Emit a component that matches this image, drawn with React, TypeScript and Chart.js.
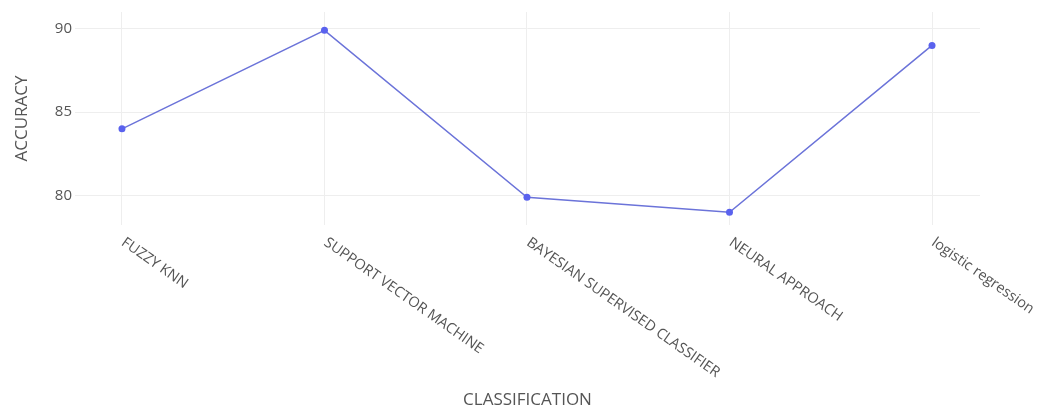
import React, { useEffect, useRef } from "react";
import { Chart, registerables } from "chart.js";

Chart.register(...registerables);

const categories = [
  "FUZZY KNN",
  "SUPPORT VECTOR MACHINE",
  "BAYESIAN SUPERVISED CLASSIFIER",
  "NEURAL APPROACH",
  "logistic regression",
];
const accuracy = [84, 89.9, 79.9, 79, 89];
const yTicks = [80, 85, 90];

const FONT = "'Open Sans', 'Noto Sans', sans-serif";
const TEXT = "#555555";

export default function App() {
  const ref = useRef<HTMLCanvasElement | null>(null);
  useEffect(() => {
    if (!ref.current) return;
    const rotatedLabels = {
      id: "rotatedLabels",
      afterDraw(chart: any) {
        const { ctx, scales } = chart;
        const xs = scales.x;
        const top = chart.chartArea.bottom + 8;
        ctx.save();
        ctx.font = `14.5px ${FONT}`;
        ctx.fillStyle = TEXT;
        ctx.textAlign = "left";
        ctx.textBaseline = "middle";
        categories.forEach((c, i) => {
          const px = xs.getPixelForValue(i);
          ctx.save();
          ctx.translate(px + 1, top + 8);
          ctx.rotate((35 * Math.PI) / 180);
          ctx.fillText(c, 0, 0);
          ctx.restore();
        });
        ctx.restore();
      },
    };
    const chart = new Chart(ref.current, {
      type: "line",
      data: {
        datasets: [
          {
            data: accuracy.map((v, i) => ({ x: i, y: v })),
            borderColor: "#6b73d9",
            borderWidth: 1.5,
            backgroundColor: "#5a62ee",
            pointBackgroundColor: "#5a62ee",
            pointBorderWidth: 0,
            pointRadius: 3.5,
            tension: 0,
          },
        ],
      },
      options: {
        animation: false,
        responsive: true,
        maintainAspectRatio: false,
        layout: { padding: { top: 8, right: 60, bottom: 0, left: 0 } },
        plugins: { legend: { display: false }, tooltip: { enabled: false } },
        scales: {
          x: {
            type: "linear",
            min: -0.232,
            max: 4.237,
            afterBuildTicks: (s: any) => {
              s.ticks = categories.map((_, i) => ({ value: i }));
            },
            afterFit: (s: any) => {
              s.height = 185;
            },
            border: { display: false },
            grid: { color: "#eeeeee", drawTicks: false },
            ticks: { display: false },
            title: {
              display: true,
              text: "CLASSIFICATION",
              color: TEXT,
              font: { family: FONT, size: 17 },
              padding: { top: 0, bottom: 0 },
            },
          },
          y: {
            type: "linear",
            min: 78.24,
            max: 91,
            afterBuildTicks: (s: any) => {
              s.ticks = yTicks.map((v) => ({ value: v }));
            },
            afterFit: (s: any) => {
              s.width = 75;
            },
            border: { display: false },
            grid: { color: "#eeeeee", drawTicks: false },
            ticks: {
              color: TEXT,
              font: { family: FONT, size: 15 },
              padding: 3,
            },
            title: {
              display: true,
              text: "ACCURACY",
              color: TEXT,
              font: { family: FONT, size: 17 },
              padding: { top: 12, bottom: 0 },
            },
          },
        },
      },
      plugins: [rotatedLabels],
    });
    return () => chart.destroy();
  }, []);
  return (
    <div
      style={{
        position: "fixed",
        left: 0,
        top: 0,
        width: 1040,
        height: 410,
        background: "#ffffff",
      }}
    >
      <canvas ref={ref} />
    </div>
  );
}
